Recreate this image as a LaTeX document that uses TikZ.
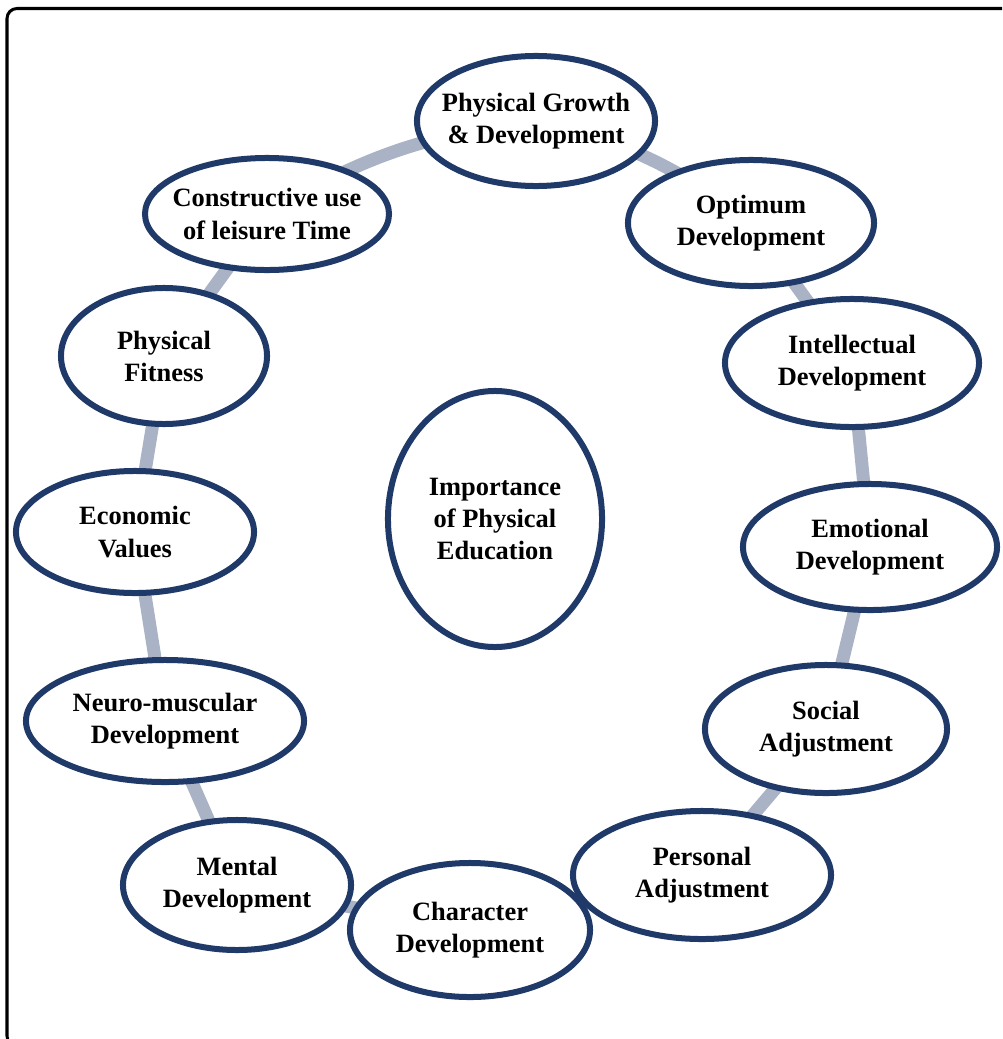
\documentclass[tikz,border=0pt]{standalone}
\usepackage{fontspec}
\setmainfont{Liberation Serif}
\definecolor{darknavy}{RGB}{31,57,105}
\definecolor{ringgrey}{RGB}{170,179,197}
\usetikzlibrary{shapes.geometric, backgrounds, shadows}

\begin{document}
\begin{tikzpicture}[x=0.025cm, y=-0.025cm,
  topic/.style={ellipse, draw=darknavy, line width=0.15cm, fill=white,
    inner xsep=-25pt, inner ysep=-8pt, align=center,
    font=\bfseries\fontsize{18.8}{22.8}\selectfont,
    drop shadow={opacity=0.18, fill=darknavy, shadow xshift=0pt, shadow yshift=-2pt}},
  oval/.style 2 args={minimum width=#1cm, minimum height=#2cm},
  ring/.style={ringgrey, line width=0.325cm}]

\clip (0,0) rectangle (1002,1039);

% --- Outer frame ---
\draw[line width=0.075cm, rounded corners=0.25cm] (7,8.5) rectangle (1040,1046);

% --- Centre ---
\node[topic, oval={5.35}{6.4}] (hub) at (495,519) {Importance\\of Physical\\Education};

% --- Ring of topics (clockwise from top) ---
\node[topic, oval={5.95}{3.25}] (grow) at (536,121) {Physical Growth\\\& Development};
\node[topic, oval={6.15}{3.15}] (optimum) at (751,223) {Optimum\\Development};
\node[topic, oval={6.35}{3.2}] (intellect) at (852,363) {Intellectual\\Development};
\node[topic, oval={6.35}{3.15}] (emotion) at (870,547) {Emotional\\Development};
\node[topic, oval={6.05}{3.2}] (social) at (826,729) {Social\\Adjustment};
\node[topic, oval={6.0}{3.35}] (character) at (470,930) {Character\\Development};
\node[topic, oval={6.45}{3.2}] (personal) at (702,875) {Personal\\Adjustment};
\node[topic, oval={5.7}{3.25}] (mental) at (237,885) {Mental\\Development};
\node[topic, oval={6.95}{3.05}] (neuro) at (165,721) {Neuro-muscular\\Development};
\node[topic, oval={5.95}{3.05}] (economic) at (135,532) {Economic\\Values};
\node[topic, oval={5.15}{3.4}] (fitness) at (164,356) {Physical\\Fitness};
\node[topic, oval={6.1}{2.8}] (leisure) at (267,214) {Constructive use\\of leisure Time};

% --- Grey ring behind the ovals ---
\begin{scope}[on background layer]
  \draw[ring] (leisure.center) to[bend left=12] (grow.center);
  \draw[ring] (grow.center) to[bend left=12] (optimum.center);
  \foreach \a/\b in {optimum/intellect, intellect/emotion, emotion/social,
      social/personal, personal/character, character/mental, mental/neuro,
      neuro/economic, economic/fitness, fitness/leisure}
    \draw[ring] (\a.center) -- (\b.center);
\end{scope}

\end{tikzpicture}
\end{document}
